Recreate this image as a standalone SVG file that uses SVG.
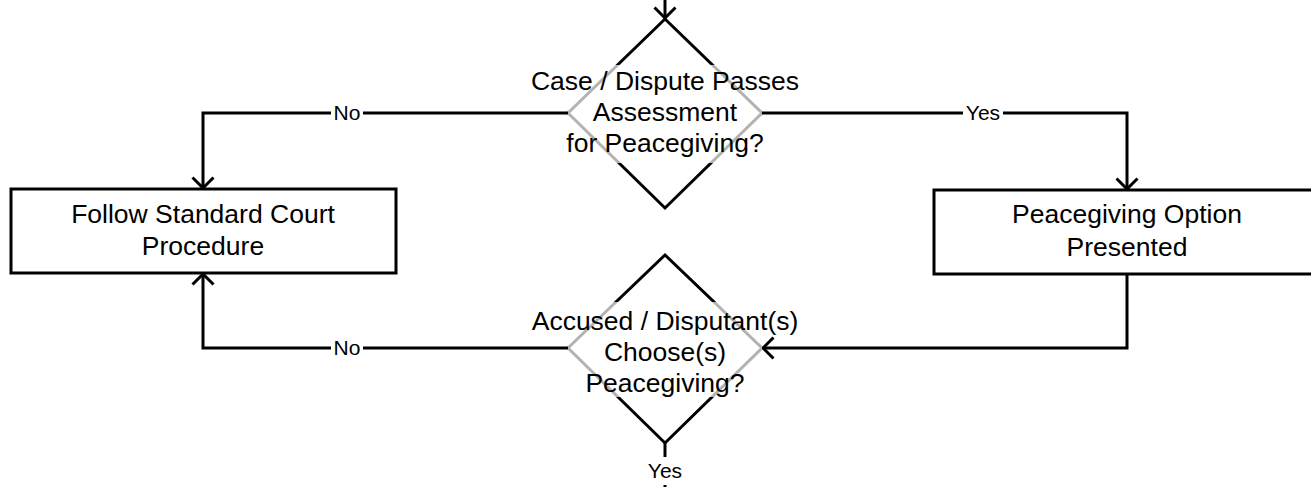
<svg xmlns="http://www.w3.org/2000/svg" width="1311" height="487" viewBox="0 0 1311 487">
<defs>
<style>
.shape{fill:#fff;stroke:#000;stroke-width:3}
.dia{fill:#fff;stroke:#000;stroke-width:3}
.veil{fill:#fff;fill-opacity:0.7;stroke:none}
.t{font-family:"Liberation Sans",Arial,sans-serif;font-size:26.5px;fill:#000;text-anchor:middle}
.lbl{font-family:"Liberation Sans",Arial,sans-serif;font-size:21px;fill:#000;text-anchor:middle}
.c{fill:none;stroke:#000;stroke-width:3}
.lb{fill:#fff;stroke:none}
</style>
<marker id="arr" viewBox="0 0 13 24" refX="12" refY="12" markerWidth="13" markerHeight="24" markerUnits="userSpaceOnUse" orient="auto">
<path d="M1.5,1.5 L12,12 L1.5,22.5" fill="none" stroke="#000" stroke-width="3"/>
</marker>
</defs>
<rect width="1311" height="487" fill="#fff"/>

<g id="assess">
<polygon class="dia" points="665,19 762,113 665,208 568,113"/>
<rect class="veil" x="540" y="65" width="250" height="98"/>
<text class="t" x="665" y="90">Case / Dispute Passes</text>
<text class="t" x="665" y="121">Assessment</text>
<text class="t" x="665" y="152">for Peacegiving?</text>
</g>

<g id="standard">
<rect class="shape" x="11" y="189" width="385" height="84"/>
<text class="t" x="203" y="223">Follow Standard Court</text>
<text class="t" x="203" y="255">Procedure</text>
</g>

<g id="option">
<rect class="shape" x="934" y="190" width="390" height="84"/>
<text class="t" x="1127" y="223">Peacegiving Option</text>
<text class="t" x="1127" y="256">Presented</text>
</g>

<g id="choose">
<polygon class="dia" points="665,255 762,348 665,443 568,348"/>
<rect class="veil" x="540" y="302" width="250" height="95"/>
<text class="t" x="665" y="330">Accused / Disputant(s)</text>
<text class="t" x="665" y="361">Choose(s)</text>
<text class="t" x="665" y="392">Peacegiving?</text>
</g>

<g id="connectors">
<path class="c" d="M665,0 L665,18" marker-end="url(#arr)"/>
<path class="c" d="M568,113 L203,113 L203,188" marker-end="url(#arr)"/>
<rect class="lb" x="331" y="102" width="32" height="22"/>
<text class="lbl" x="347" y="120">No</text>
<path class="c" d="M762,113 L1127,113 L1127,189" marker-end="url(#arr)"/>
<rect class="lb" x="963" y="102" width="40" height="22"/>
<text class="lbl" x="983" y="120">Yes</text>
<path class="c" d="M1127,274 L1127,348 L763,348" marker-end="url(#arr)"/>
<path class="c" d="M568,348 L203,348 L203,274" marker-end="url(#arr)"/>
<rect class="lb" x="331" y="337" width="32" height="22"/>
<text class="lbl" x="347" y="355">No</text>
<path class="c" d="M665,443 L665,487"/>
<rect class="lb" x="644" y="457" width="42" height="28"/>
<text class="lbl" x="665" y="478">Yes</text>
</g>
</svg>
